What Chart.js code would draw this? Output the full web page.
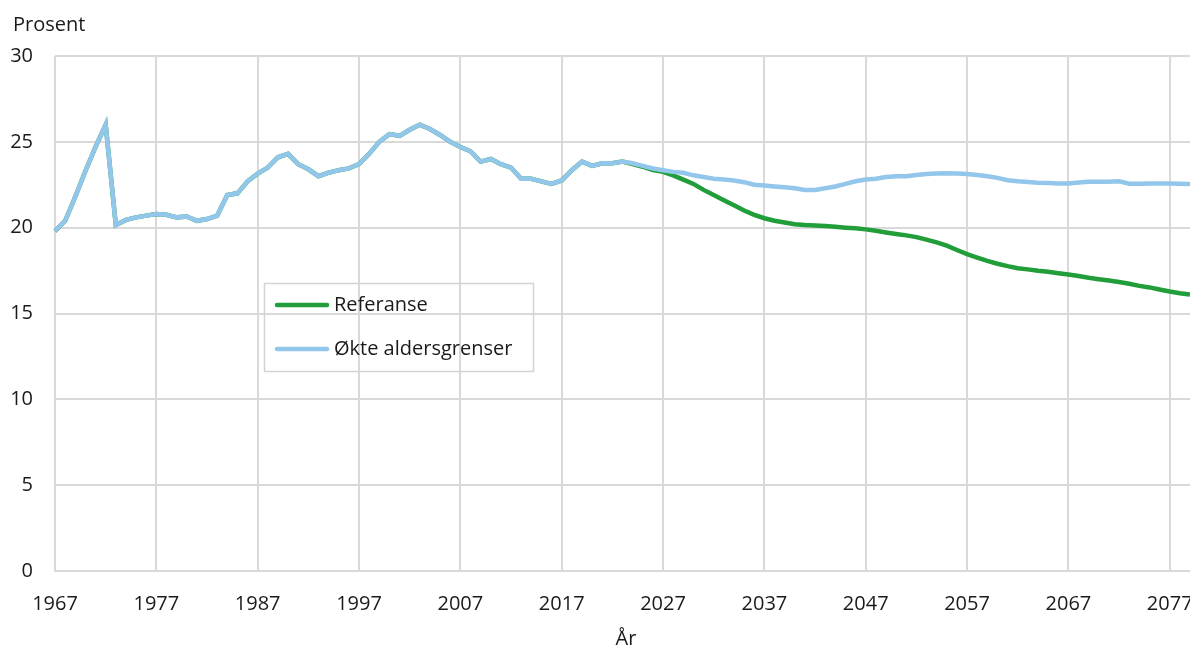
<!DOCTYPE html>
<html lang="no">
<head>
<meta charset="utf-8">
<title>Prosent</title>
<script src="https://cdn.jsdelivr.net/npm/chart.js@4.4.1/dist/chart.umd.min.js"></script>
<style>
  html, body { margin: 0; padding: 0; background: #ffffff; }
  #wrap { width: 1190px; height: 648px; position: relative; }
</style>
</head>
<body>
<div id="wrap"><canvas id="c"></canvas></div>
<script>
// ---- Data ----
const START_YEAR = 1967;
const END_YEAR = 2079;
const years = [];
for (let y = START_YEAR; y <= END_YEAR; y++) years.push(String(y));

const tickYears = ['1967','1977','1987','1997','2007','2017','2027','2037','2047','2057','2067','2077'];
const yTicks = [0, 5, 10, 15, 20, 25, 30];

// Historical values 1967–2023 (common to both series)
const history = [
  19.8, 20.4, 21.8, 23.3, 24.7, 26.0, 20.15, 20.45, 20.6, 20.7,
  20.8, 20.75, 20.6, 20.65, 20.4, 20.5, 20.7, 21.9, 22.0, 22.7,
  23.15, 23.5, 24.1, 24.3, 23.7, 23.4, 23.0, 23.2, 23.35, 23.45,
  23.7, 24.3, 25.0, 25.45, 25.35, 25.7, 26.0, 25.75, 25.4, 25.0,
  24.7, 24.45, 23.85, 24.0, 23.7, 23.5, 22.85, 22.85, 22.7, 22.55,
  22.75, 23.35, 23.85, 23.6, 23.75, 23.75, 23.85
];

// Projection 2024–2079, Referanse
const referanseProj = [
  23.7, 23.55, 23.35, 23.25, 23.05, 22.8, 22.55, 22.2, 21.9, 21.6,
  21.3, 21.0, 20.75, 20.55, 20.4, 20.3, 20.2, 20.15, 20.12, 20.1,
  20.05, 20.0, 19.96, 19.9, 19.82, 19.72, 19.63, 19.55, 19.45, 19.3,
  19.14, 18.95, 18.7, 18.46, 18.26, 18.07, 17.9, 17.76, 17.64, 17.57,
  17.49, 17.43, 17.35, 17.27, 17.18, 17.08, 17.0, 16.92, 16.83, 16.73,
  16.61, 16.52, 16.4, 16.28, 16.18, 16.1
];

// Projection 2024–2079, Økte aldersgrenser
const okteProj = [
  23.75, 23.6, 23.45, 23.35, 23.25, 23.2, 23.05, 22.95, 22.85, 22.8,
  22.75, 22.65, 22.5, 22.45, 22.4, 22.35, 22.3, 22.2, 22.2, 22.3,
  22.4, 22.55, 22.7, 22.8, 22.85, 22.95, 23.0, 23.0, 23.07, 23.12,
  23.15, 23.17, 23.15, 23.12, 23.07, 23.0, 22.9, 22.76, 22.7, 22.66,
  22.62, 22.6, 22.58, 22.58, 22.63, 22.67, 22.68, 22.68, 22.7, 22.56,
  22.56, 22.58, 22.58, 22.58, 22.56, 22.54
];

const referanse = history.concat(referanseProj);
const okte = history.concat(okteProj);

const seriesNames = ['Referanse', 'Økte aldersgrenser'];
const yTitle = 'Prosent';
const xTitle = 'År';

// ---- Styles ----
const GREEN = 'rgb(33,158,58)';
const BLUE = 'rgb(146,198,235)';
const GRID = '#d9d9d9';
const TEXT = '#1a1a1a';
const FONT = '"Open Sans", "Noto Sans", sans-serif';

const extras = {
  id: 'extras',
  afterDraw(chart) {
    const ctx = chart.ctx;
    ctx.save();
    ctx.fillStyle = TEXT;
    ctx.font = '20px ' + FONT;
    ctx.textBaseline = 'middle';
    ctx.textAlign = 'left';
    ctx.fillText(yTitle, 13, 25);
    ctx.textAlign = 'center';
    ctx.fillText(xTitle, 626, 639);

    // legend box
    ctx.strokeStyle = '#d4d4d4';
    ctx.lineWidth = 1.5;
    ctx.strokeRect(264.5, 283.5, 269, 88);
    const items = [
      { label: seriesNames[0], color: GREEN, y: 305 },
      { label: seriesNames[1], color: BLUE, y: 349 }
    ];
    items.forEach(it => {
      ctx.strokeStyle = it.color;
      ctx.lineWidth = 4.5;
      ctx.lineCap = 'round';
      ctx.beginPath();
      ctx.moveTo(277, it.y);
      ctx.lineTo(327, it.y);
      ctx.stroke();
      ctx.fillStyle = TEXT;
      ctx.textAlign = 'left';
      ctx.fillText(it.label, 334, it.y);
    });
    ctx.restore();
  }
};

new Chart(document.getElementById('c'), {
  type: 'line',
  data: {
    labels: years,
    datasets: [
      { label: seriesNames[1], data: okte, borderColor: BLUE, backgroundColor: BLUE,
        borderWidth: 4.5, pointRadius: 0, tension: 0, fill: false },
      { label: seriesNames[0], data: referanse, borderColor: GREEN, backgroundColor: GREEN,
        borderWidth: 4.5, pointRadius: 0, tension: 0, fill: false }
    ]
  },
  options: {
    responsive: true,
    maintainAspectRatio: false,
    animation: false,
    layout: { padding: { top: 56, right: 0, bottom: 0, left: 0 } },
    plugins: { legend: { display: false }, tooltip: { enabled: false }, title: { display: false } },
    scales: {
      x: {
        type: 'category',
        offset: false,
        grid: { color: GRID, lineWidth: 2, drawTicks: false },
        border: { display: true, color: GRID, width: 2 },
        ticks: {
          autoSkip: false, maxRotation: 0, minRotation: 0, padding: 21,
          color: TEXT, font: { family: FONT, size: 20 },
          callback(value) {
            const lab = this.getLabelForValue(value);
            return tickYears.includes(lab) ? lab : null;
          }
        },
        afterFit(scale) { scale.height = 77; scale.paddingRight = 0; }
      },
      y: {
        min: 0, max: 30,
        afterBuildTicks(scale) { scale.ticks = yTicks.map(v => ({ value: v })); },
        grid: { color: GRID, lineWidth: 2, drawTicks: false },
        border: { display: false },
        ticks: { padding: 22, color: TEXT, font: { family: FONT, size: 20 } },
        afterFit(scale) { scale.width = 55; }
      }
    }
  },
  plugins: [extras]
});
</script>
</body>
</html>
